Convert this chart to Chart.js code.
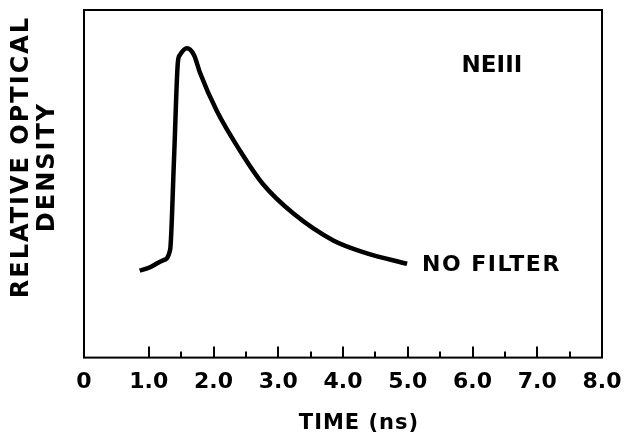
<!DOCTYPE html>
<html>
<head>
<meta charset="utf-8">
<script src="https://cdn.jsdelivr.net/npm/chart.js@4.4.0/dist/chart.umd.min.js"></script>
<style>
  html, body { margin: 0; padding: 0; background: #fff; }
  canvas { display: block; }
</style>
</head>
<body>
<canvas id="chart" width="635" height="441"></canvas>
<script>
// curve (time in ns, relative optical density 0..1)
const timeNs = [0.86, 1.02, 1.22, 1.33, 1.39, 1.45, 1.48, 1.59, 1.70, 1.79, 2.05, 2.41, 2.76, 3.23, 3.85, 4.37, 4.99];
const density = [0.25, 0.26, 0.28, 0.31, 0.57, 0.85, 0.87, 0.89, 0.87, 0.82, 0.71, 0.595, 0.50, 0.415, 0.337, 0.30, 0.27];

const majorTicks = [1, 2, 3, 4, 5, 6, 7];
const minorTicks = [1.5, 2.5, 3.5, 4.5, 5.5, 6.5, 7.5];

const FONT = '"DejaVu Sans", sans-serif';

// frame, inward ticks and the hand-lettered labels
const paperLook = {
  id: 'paperLook',
  afterDraw(chart) {
    const { ctx, chartArea: a, scales: { x, y } } = chart;
    ctx.save();
    ctx.strokeStyle = '#000';
    ctx.lineWidth = 2;
    ctx.strokeRect(a.left, a.top, a.right - a.left, a.bottom - a.top);

    ctx.beginPath();
    majorTicks.forEach(v => {
      const px = Math.round(x.getPixelForValue(v));
      ctx.moveTo(px, a.bottom);
      ctx.lineTo(px, a.bottom - 11);
    });
    minorTicks.forEach(v => {
      const px = Math.round(x.getPixelForValue(v));
      ctx.moveTo(px, a.bottom);
      ctx.lineTo(px, a.bottom - 6);
    });
    ctx.stroke();

    ctx.fillStyle = '#000';
    ctx.textBaseline = 'middle';

    ctx.font = 'bold 22px ' + FONT;
    ctx.letterSpacing = '1.5px';
    ctx.textAlign = 'left';
    ctx.fillText('NO FILTER', x.getPixelForValue(5.22), y.getPixelForValue(0.265));

    ctx.font = 'bold 23px ' + FONT;
    ctx.letterSpacing = '0px';
    ctx.textAlign = 'center';
    ctx.fillText('NEIII', x.getPixelForValue(6.3), y.getPixelForValue(0.84));

    ctx.font = 'bold 21px ' + FONT;
    ctx.letterSpacing = '1px';
    ctx.fillText('TIME (ns)', 359, 424);

    ctx.font = 'bold 24px ' + FONT;
    ctx.letterSpacing = '2px';
    ctx.translate(22, 157);
    ctx.rotate(-Math.PI / 2);
    ctx.fillText('RELATIVE OPTICAL', 0, 0);
    ctx.rotate(Math.PI / 2);
    ctx.translate(26, 10);
    ctx.rotate(-Math.PI / 2);
    ctx.fillText('DENSITY', 0, 0);
    ctx.restore();
  }
};

new Chart(document.getElementById('chart'), {
  type: 'line',
  data: {
    datasets: [{
      data: timeNs.map((t, i) => ({ x: t, y: density[i] })),
      borderColor: '#000',
      borderWidth: 4.5,
      pointRadius: 0,
      cubicInterpolationMode: 'monotone',
      fill: false
    }]
  },
  options: {
    responsive: false,
    animation: false,
    layout: { padding: { left: 84, right: 33, top: 10, bottom: 43 } },
    plugins: { legend: { display: false }, tooltip: { enabled: false } },
    scales: {
      x: {
        type: 'linear',
        min: 0,
        max: 8,
        grid: { display: false },
        border: { display: false },
        ticks: {
          stepSize: 1,
          padding: 3,
          color: '#000',
          font: { family: FONT, size: 22, weight: 'bold' },
          callback: v => v === 0 ? '0' : v.toFixed(1)
        }
      },
      y: {
        display: false,
        min: 0,
        max: 1
      }
    }
  },
  plugins: [paperLook]
});
</script>
</body>
</html>
